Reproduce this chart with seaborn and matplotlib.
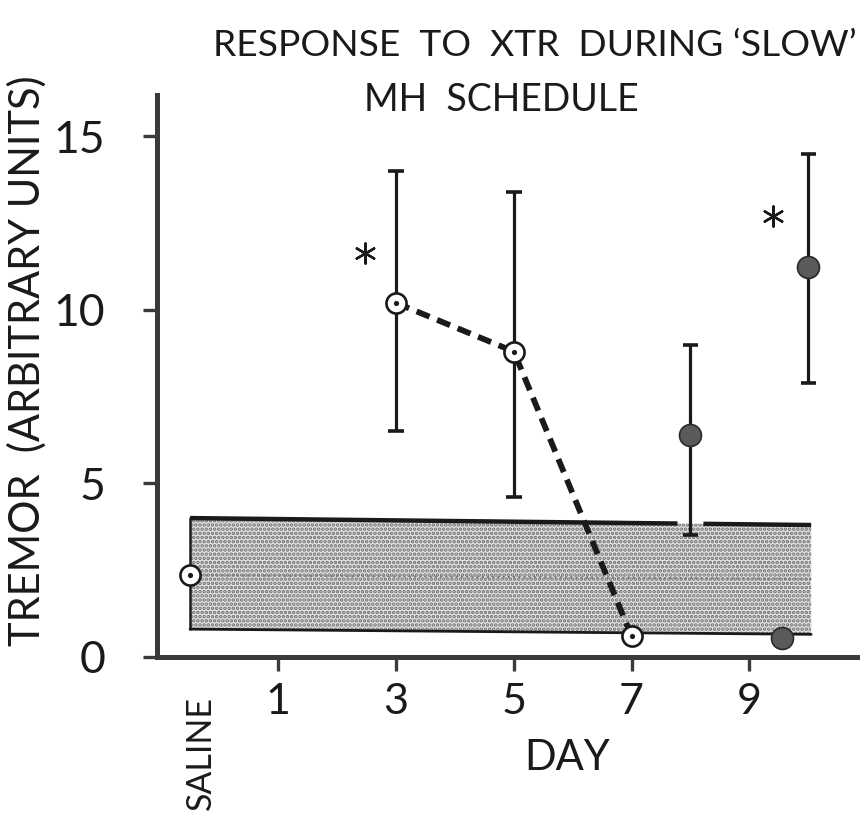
import matplotlib
matplotlib.use("Agg")
import matplotlib.pyplot as plt
import seaborn as sns
import pandas as pd

# ---- data ----
open_days = [-0.5, 3, 5, 7]
open_vals = [2.35, 10.2, 8.8, 0.6]
filled_days = [8, 9.55, 10]
filled_vals = [6.4, 0.55, 11.25]
err_days = [3, 5, 8, 10]
err_low = [6.5, 4.6, 3.5, 7.9]
err_high = [14.0, 13.4, 9.0, 14.5]
trend_days = [3, 5, 7]
trend_vals = [10.2, 8.8, 0.6]
band_x = [-0.5, 10.05]
band_top = [4.0, 3.8]
band_bottom = [0.8, 0.65]
band_gap = [7.78, 8.22]
star_days = [2.47, 9.41]
star_vals = [11.65, 12.7]
x_ticks = [1, 3, 5, 7, 9]
y_ticks = [0, 5, 10, 15]

sns.set_style("ticks")
FONT = ["Lato", "DejaVu Sans"]
plt.rcParams["font.family"] = FONT
plt.rcParams["hatch.linewidth"] = 1.8

INK = "#1a1a1a"
fig = plt.figure(figsize=(8.6, 8.17), dpi=100)
ax = fig.add_axes([0.182, 0.196, 0.818, 0.688])
ax.set_xlim(-1.07, 10.88)
ax.set_ylim(0, 16.2)

# shaded normal range band
ax.fill_between(band_x, band_bottom, band_top, facecolor="#e4e4e4",
                hatch="....", edgecolor="#6e6e6e", linewidth=0, zorder=1)
# band edges
def top_at(x):
    return band_top[0] + (band_top[1] - band_top[0]) * (x - band_x[0]) / (band_x[1] - band_x[0])
ax.plot([band_x[0], band_gap[0]], [band_top[0], top_at(band_gap[0])], color=INK, lw=3.2, zorder=2,
        solid_capstyle="butt")
ax.plot([band_gap[1], band_x[1]], [top_at(band_gap[1]), band_top[1]], color=INK, lw=3.2, zorder=2,
        solid_capstyle="butt")
ax.plot(band_x, band_bottom, color=INK, lw=2.0, zorder=2)
ax.plot([band_x[0], band_x[0]], [band_bottom[0], band_top[0]], color=INK, lw=1.8, zorder=2)
ax.plot(band_x, [open_vals[0], open_vals[0] - 0.1], color="#7a7a7a", lw=1.5, ls=(0, (1, 1.5)), zorder=2)

# error bars
ax.vlines(err_days, err_low, err_high, color=INK, lw=2.3, zorder=3)
cap = 0.13
ax.hlines(err_low, [d - cap for d in err_days], [d + cap for d in err_days], color=INK, lw=2.6, zorder=3)
ax.hlines(err_high, [d - cap for d in err_days], [d + cap for d in err_days], color=INK, lw=2.6, zorder=3)

# dashed trend line
trend = pd.DataFrame({"day": trend_days, "tremor": trend_vals})
sns.lineplot(data=trend, x="day", y="tremor", ax=ax, color=INK, lw=4.2,
             dashes=False, zorder=4)
ax.lines[-1].set_dashes((2.4, 1.4))

# open markers
opn = pd.DataFrame({"day": open_days, "tremor": open_vals})
sns.scatterplot(data=opn, x="day", y="tremor", ax=ax, s=210, color="white",
                edgecolor=INK, linewidth=1.9, zorder=5)
sns.scatterplot(data=opn, x="day", y="tremor", ax=ax, s=14, color=INK,
                edgecolor=INK, linewidth=0, zorder=6)

# filled markers
fil = pd.DataFrame({"day": filled_days, "tremor": filled_vals})
sns.scatterplot(data=fil, x="day", y="tremor", ax=ax, s=250, color="#5a5a5a",
                edgecolor="#2a2a2a", linewidth=1.2, zorder=5)

# asterisks
stars = pd.DataFrame({"day": star_days, "tremor": star_vals})
sns.scatterplot(data=stars, x="day", y="tremor", ax=ax, s=210, marker=(6, 2, 0),
                color=INK, edgecolor=INK, linewidth=1.7, zorder=5)

# axes styling
for side in ["top", "right"]:
    ax.spines[side].set_visible(False)
for side in ["left", "bottom"]:
    ax.spines[side].set_linewidth(3.6)
    ax.spines[side].set_color("#3a3a3a")
ax.set_xticks(x_ticks)
ax.set_xticklabels([str(t) for t in x_ticks])
ax.set_yticks(y_ticks)
ax.set_yticklabels([str(t) for t in y_ticks])
ax.tick_params(axis="x", length=10, width=2.4, color="#3a3a3a", pad=9, labelsize=31, labelcolor=INK)
ax.tick_params(axis="y", length=10, width=2.4, color="#3a3a3a", pad=27, labelsize=32, labelcolor=INK)
ax.set_xlabel("")
ax.set_ylabel("")

# labels
fig.text(201 / 860, 1 - 753 / 817, "SALINE", rotation=90, ha="center", va="center",
         fontsize=24.5, color=INK, family=FONT)
fig.text(567 / 860, 1 - 758 / 817, "DAY", ha="center", va="center", fontsize=30,
         color=INK, family=FONT)
fig.text(27 / 860, 1 - 361 / 817, "TREMOR  (ARBITRARY UNITS)", rotation=90, ha="center",
         va="center", fontsize=30, color=INK, family=FONT)
fig.text(535 / 860, 1 - 45 / 817, "RESPONSE  TO  XTR  DURING \u2018SLOW\u2019", ha="center",
         va="center", fontsize=26.8, color=INK, family=FONT)
fig.text(501 / 860, 1 - 100 / 817, "MH  SCHEDULE", ha="center", va="center", fontsize=27,
         color=INK, family=FONT)

fig.savefig("out.png", dpi=100)
